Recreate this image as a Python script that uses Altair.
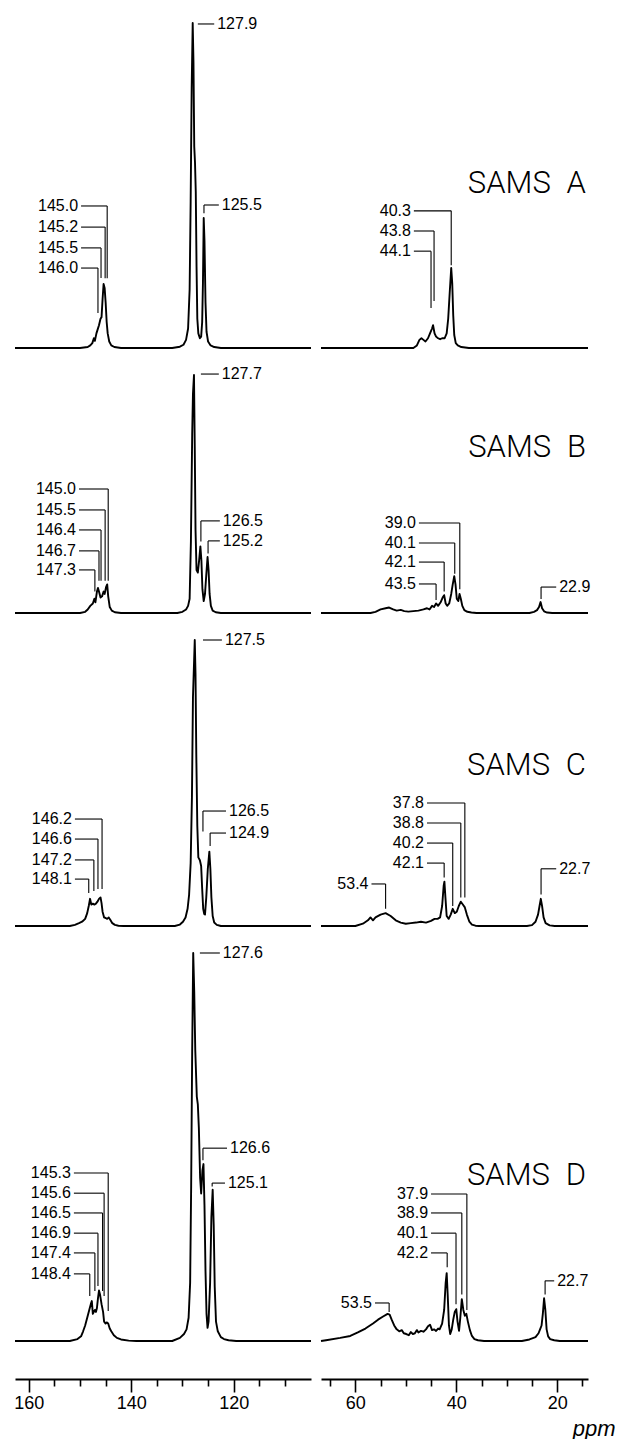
import altair as alt
import pandas as pd

# ---------------- data (ppm, relative intensity in % of the row's tallest peak) ----------------
samples = ["SAMS A", "SAMS B", "SAMS C", "SAMS D"]

A_arom = [(162.7, 0), (150.0, 0), (148.5, 0.3), (148.0, 0.8), (147.6, 1.5), (147.3, 3), (147.1, 2.2),
          (146.8, 4.5), (146.6, 5.5), (146.3, 7), (146.0, 9), (145.8, 9.5), (145.6, 15), (145.4, 19.7),
          (145.2, 18.5), (145.0, 14), (144.8, 8), (144.6, 4.5), (144.3, 2), (143.9, 0.8), (143.3, 0.3),
          (142.0, 0), (132.0, 0), (130.5, 0.4), (129.8, 1), (129.3, 2.5), (128.9, 6), (128.6, 18),
          (128.4, 45), (128.2, 80), (128.0, 100), (127.85, 88), (127.7, 62), (127.55, 57), (127.4, 48),
          (127.25, 25), (127.1, 9), (126.9, 4.5), (126.6, 3), (126.35, 3.5), (126.15, 8), (126.0, 20),
          (125.85, 40), (125.7, 33), (125.5, 14), (125.3, 5), (125.0, 2), (124.5, 0.8), (123.8, 0.3),
          (122.5, 0), (104.9, 0)]
A_aliph = [(66.8, 0), (48.5, 0), (47.8, 0.8), (47.3, 2.5), (46.9, 3), (46.5, 2.5), (46.1, 2), (45.6, 3),
           (45.2, 4.5), (44.8, 6), (44.6, 7), (44.3, 4.5), (44.0, 3.5), (43.6, 3), (43.2, 2.7), (42.8, 3),
           (42.3, 3), (41.9, 4.5), (41.6, 9), (41.3, 17), (41.0, 24.6), (40.8, 20), (40.6, 10), (40.4, 4),
           (40.1, 1.5), (39.7, 0.8), (39.0, 0.3), (37.5, 0), (13.9, 0)]

B_arom = [(162.7, 0), (150.0, 0), (149.0, 0.5), (148.5, 1.5), (148.0, 3), (147.5, 4), (147.2, 6), (147.0, 4.5),
          (146.7, 9), (146.5, 10.5), (146.3, 9), (146.0, 6.5), (145.7, 7), (145.4, 9), (145.2, 8),
          (144.9, 11), (144.7, 12), (144.5, 7), (144.2, 2.5), (143.8, 1), (143.2, 0.3), (142.0, 0),
          (131.0, 0), (130.0, 0.5), (129.3, 1.5), (128.9, 3), (128.6, 6), (128.35, 30), (128.1, 75),
          (127.95, 92), (127.75, 100), (127.6, 70), (127.45, 35), (127.25, 18), (127.0, 17), (126.75, 22),
          (126.5, 28), (126.3, 22), (126.1, 10), (125.85, 5), (125.6, 8), (125.35, 16), (125.1, 23.5),
          (124.9, 18), (124.7, 8), (124.45, 3), (124.1, 1), (123.5, 0.3), (122.5, 0), (104.9, 0)]
B_aliph = [(66.8, 0), (57.0, 0), (56.0, 0.5), (55.0, 1.5), (54.0, 2), (53.3, 2.3), (52.5, 1.5), (51.8, 1),
           (51.0, 1.3), (50.3, 0.8), (49.5, 0.6), (48.5, 0.8), (47.5, 1), (46.5, 1.5), (45.8, 2),
           (45.3, 1.5), (44.8, 3), (44.4, 2.5), (44.0, 4), (43.6, 3), (43.1, 4.5), (42.7, 6.5), (42.4, 7.5),
           (42.1, 4), (41.8, 3), (41.4, 4), (41.0, 8), (40.7, 12), (40.4, 15.5), (40.15, 12), (39.9, 6),
           (39.6, 5), (39.35, 8), (39.1, 6), (38.8, 3), (38.4, 1.2), (37.8, 0.5), (37.0, 0.2), (36.0, 0),
           (25.5, 0), (24.6, 0.5), (24.0, 1.2), (23.6, 2.5), (23.3, 4.6), (23.0, 2), (22.6, 0.7),
           (22.0, 0.2), (21.0, 0), (13.9, 0)]

C_arom = [(162.7, 0), (152.0, 0), (151.0, 0.4), (150.2, 1), (149.6, 1.5), (149.0, 2.5), (148.6, 4.5),
          (148.3, 7), (148.05, 9.5), (147.8, 7.5), (147.5, 7.8), (147.2, 7.5), (146.9, 7.8), (146.6, 8.5),
          (146.3, 9.5), (146.0, 10), (145.8, 8), (145.6, 5), (145.3, 3), (145.0, 2.8), (144.7, 2.5),
          (144.4, 3), (144.1, 2.2), (143.7, 1), (143.2, 0.4), (142.5, 0.1), (141.5, 0), (131.5, 0),
          (130.5, 0.5), (129.9, 1.5), (129.4, 3), (129.0, 6), (128.7, 11), (128.4, 22), (128.15, 45),
          (127.95, 80), (127.6, 100), (127.45, 88), (127.3, 60), (127.1, 35), (126.9, 24), (126.6, 23),
          (126.35, 21), (126.15, 13), (125.95, 6), (125.75, 4.2), (125.6, 4), (125.35, 10), (125.05, 20),
          (124.75, 26), (124.55, 20), (124.35, 10), (124.1, 3.5), (123.8, 1.2), (123.3, 0.4), (122.5, 0),
          (104.9, 0)]
C_aliph = [(66.8, 0), (60.0, 0), (58.5, 0.8), (57.5, 2), (57.0, 3), (56.5, 2), (56.0, 3), (55.0, 4),
           (54.0, 4.5), (53.0, 3.5), (52.0, 2), (51.0, 1.2), (50.0, 0.8), (49.0, 1), (48.0, 1.2), (47.0, 1.5),
           (46.0, 1.2), (45.0, 1.8), (44.3, 2.5), (43.7, 2.5), (43.2, 3), (42.8, 7), (42.5, 14),
           (42.35, 15.5), (42.15, 10), (41.9, 3.5), (41.5, 2.5), (41.1, 4), (40.7, 6), (40.3, 4.5),
           (39.9, 5), (39.5, 7), (39.1, 8.5), (38.7, 7.5), (38.3, 6.5), (37.9, 4), (37.4, 1.5), (36.9, 0.5),
           (36.2, 0.1), (35.5, 0), (26.0, 0), (25.0, 0.3), (24.3, 1.5), (23.8, 4), (23.5, 7), (23.25, 9.5),
           (23.0, 7), (22.7, 3), (22.3, 1), (21.5, 0.2), (20.5, 0), (13.9, 0)]

D_arom = [(162.7, 0), (152.0, 0), (150.5, 0.5), (149.8, 1.2), (149.4, 2.5), (149.0, 4), (148.6, 6),
          (148.2, 8), (147.9, 9.5), (147.7, 10.3), (147.5, 7), (147.3, 7.5), (147.1, 8), (146.9, 7.5),
          (146.7, 8.5), (146.5, 11), (146.3, 13), (146.1, 12), (145.8, 9.5), (145.5, 7.5), (145.3, 5),
          (145.0, 4.5), (144.8, 4.8), (144.5, 4.5), (144.2, 3.2), (143.9, 2.5), (143.4, 1.5), (142.8, 0.8),
          (142.0, 0.4), (140.5, 0.1), (139.0, 0), (132.0, 0), (130.5, 0.8), (129.7, 1.8), (129.2, 3),
          (128.8, 6), (128.5, 15), (128.3, 40), (128.1, 75), (127.9, 100), (127.7, 90), (127.5, 75),
          (127.2, 63), (127.0, 61), (126.8, 55), (126.55, 42), (126.35, 38), (126.1, 44), (125.9, 45.6),
          (125.7, 35), (125.5, 18), (125.3, 7), (125.1, 3.4), (124.9, 5), (124.6, 15), (124.35, 32),
          (124.1, 39), (123.9, 30), (123.7, 14), (123.45, 5), (123.1, 2.5), (122.5, 1), (121.9, 0.5),
          (121.0, 0.2), (119.5, 0), (104.9, 0)]
D_aliph = [(66.8, 0), (65.8, 0.2), (63.0, 0.8), (61.0, 1.3), (59.5, 2.2), (58.0, 3.2), (56.5, 4.5),
           (55.5, 5.5), (54.5, 6.3), (53.6, 7), (53.2, 6.8), (52.8, 5.5), (52.3, 4), (51.8, 3), (51.3, 2.5),
           (50.8, 2.8), (50.4, 2), (49.9, 1.8), (49.4, 1.5), (49.0, 2.3), (48.6, 1.8), (48.2, 2), (47.8, 2.8),
           (47.5, 2.2), (47.0, 2.6), (46.5, 2.4), (46.0, 3), (45.6, 3.8), (45.2, 4.2), (44.8, 2.8),
           (44.4, 3), (44.0, 2.6), (43.6, 3.2), (43.3, 3), (42.8, 4.5), (42.4, 8), (42.1, 15), (41.9, 17.5),
           (41.7, 12), (41.45, 4), (41.2, 1.8), (40.9, 3), (40.6, 5.5), (40.3, 7.5), (40.0, 8.2), (39.75, 5),
           (39.45, 2.6), (39.2, 6), (38.9, 10.8), (38.6, 8), (38.3, 6.5), (38.0, 7), (37.7, 5), (37.3, 2.8),
           (36.9, 1.3), (36.4, 0.5), (35.7, 0.2), (34.5, 0), (27.0, 0), (25.5, 0.4), (24.3, 1), (23.7, 2),
           (23.4, 3), (23.1, 4), (22.85, 7), (22.6, 11), (22.35, 8), (22.1, 3), (21.8, 1.2), (21.4, 0.5),
           (20.6, 0.2), (19.5, 0), (13.9, 0)]

# peak labels: (text, leader ppm, label level %, leader end %, text anchor ppm, side)
A_arom_lab = [("127.9", 127.0, 99.7, 99.7, 123.8, "R"), ("125.5", 125.8, 44.0, 41.5, 122.9, "R"),
              ("145.0", 144.7, 43.7, 21.5, 149.8, "L"), ("145.2", 145.1, 37.2, 21.5, 149.8, "L"),
              ("145.5", 145.9, 30.8, 21.5, 149.8, "L"), ("146.0", 146.5, 24.6, 10.8, 149.8, "L")]
A_aliph_lab = [("40.3", 41.0, 42.2, 25.5, 48.4, "L"), ("43.8", 44.4, 36.0, 14.5, 48.4, "L"),
               ("44.1", 45.0, 29.8, 12.3, 48.4, "L")]
B_arom_lab = [("127.7", 126.4, 100.4, 100.4, 122.9, "R"), ("126.5", 126.4, 38.7, 30.0, 122.7, "R"),
              ("125.2", 125.0, 30.3, 25.0, 122.7, "R"),
              ("145.0", 144.5, 52.1, 13.5, 150.2, "L"), ("145.5", 145.1, 43.3, 13.5, 150.2, "L"),
              ("146.4", 145.9, 34.9, 13.5, 150.2, "L"), ("146.7", 146.3, 26.1, 13.5, 150.2, "L"),
              ("147.3", 147.1, 18.1, 9.0, 150.2, "L")]
B_aliph_lab = [("39.0", 39.3, 37.8, 10.0, 47.4, "L"), ("40.1", 40.3, 29.4, 16.5, 47.4, "L"),
               ("42.1", 42.4, 21.4, 9.0, 47.4, "L"), ("43.5", 44.0, 12.2, 5.5, 47.4, "L"),
               ("22.9", 23.2, 10.9, 5.9, 20.2, "R")]
C_arom_lab = [("127.5", 126.0, 100.0, 100.0, 122.3, "R"), ("126.5", 126.0, 40.2, 33.0, 121.5, "R"),
              ("124.9", 124.6, 32.5, 28.0, 121.5, "R"),
              ("146.2", 145.7, 37.4, 12.9, 151.0, "L"), ("146.6", 146.5, 30.4, 12.9, 151.0, "L"),
              ("147.2", 147.3, 23.1, 12.2, 151.0, "L"), ("148.1", 148.3, 16.4, 11.5, 151.0, "L")]
C_aliph_lab = [("37.8", 38.3, 43.0, 10.0, 45.8, "L"), ("38.8", 39.1, 36.0, 10.0, 45.8, "L"),
               ("40.2", 40.7, 29.0, 7.0, 45.8, "L"), ("42.1", 42.4, 22.0, 17.0, 45.8, "L"),
               ("53.4", 54.0, 14.7, 6.0, 56.8, "L"), ("22.7", 23.2, 20.0, 11.0, 20.2, "R")]
D_arom_lab = [("127.6", 126.6, 100.0, 100.0, 122.7, "R"), ("126.6", 126.0, 49.7, 46.6, 121.3, "R"),
              ("125.1", 124.2, 40.7, 39.8, 121.7, "R"),
              ("145.3", 144.5, 43.3, 7.7, 151.2, "L"), ("145.6", 145.3, 38.1, 11.6, 151.2, "L"),
              ("146.5", 145.6, 33.0, 12.9, 151.2, "L"), ("146.9", 146.5, 27.8, 14.2, 151.2, "L"),
              ("147.4", 147.1, 22.7, 12.9, 151.2, "L"), ("148.4", 148.1, 17.3, 11.6, 151.2, "L")]
D_aliph_lab = [("37.9", 37.9, 37.9, 8.0, 45.0, "L"), ("38.9", 38.9, 33.0, 12.0, 45.0, "L"),
               ("40.1", 40.05, 27.8, 9.5, 45.0, "L"), ("42.2", 41.8, 22.7, 19.0, 45.0, "L"),
               ("53.5", 53.3, 9.8, 7.5, 56.1, "L"), ("22.7", 22.4, 15.5, 12.0, 20.6, "R")]

left_ticks = [160, 155, 150, 145, 140, 135, 130, 125, 120, 115, 110]
right_ticks = [65, 60, 55, 50, 45, 40, 35, 30, 25, 20, 15]

# ---------------- layout ----------------
LEFT_DOM = [104.9, 162.7]
RIGHT_DOM = [13.9, 66.8]
LEFT_W, RIGHT_W = 296, 267
ROW_H = [325, 238, 286, 388]
SAMS_POS = (14.3, [50.5, 69.3, 56.0, 42.5])
NUM_FONT = "Liberation Sans"
SAMS_FONT = "Roboto"


def make_axis(values, title=None):
    kw = dict(values=values,
              labelExpr="datum.value % 20 === 0 ? datum.label : ''",
              tickSize={"condition": {"test": "datum.value % 20 === 0", "value": 13}, "value": 7},
              tickColor="black", tickWidth=1.6, domainColor="black", domainWidth=2.2,
              labelFont=NUM_FONT, labelFontSize=18, labelColor="black", labelPadding=2,
              labelFlush=False, labelOverlap=False, grid=False, offset=38)
    if title:
        kw.update(title=title, titleFont=NUM_FONT, titleFontSize=22, titleFontStyle="italic",
                  titleFontWeight="normal", titleColor="black", titleAlign="right", titleAnchor="end",
                  titleX=294, titleY=56, titleBaseline="alphabetic")
    else:
        kw.update(title=None)
    return alt.Axis(**kw)


def panel(trace, labels, dom, width, height, axis, sams=None, sams_lvl=None):
    xs = alt.Scale(domain=dom, reverse=True, nice=False, zero=False)
    ys = alt.Scale(domain=[0, 100], nice=False, zero=False)

    def X(f):
        return alt.X(f, scale=xs, axis=axis, title=None) if axis is not None else alt.X(f, scale=xs, axis=None)

    def Y(f):
        return alt.Y(f, scale=ys, axis=None)

    spec = pd.DataFrame(trace, columns=["ppm", "inten"])
    spec["k"] = range(len(spec))
    layers = [alt.Chart(spec).mark_line(color="black", strokeWidth=1.9, strokeJoin="round").encode(
        x=X("ppm:Q"), y=Y("inten:Q"), order="k:Q")]

    lab = pd.DataFrame(labels, columns=["text", "vx", "lvl", "bot", "tx", "side"])
    layers.append(alt.Chart(lab).mark_rule(color="black", strokeWidth=1.1).encode(
        x=X("tx:Q"), x2="vx:Q", y=Y("lvl:Q")))
    vert = lab[lab["bot"] < lab["lvl"]]
    if len(vert):
        layers.append(alt.Chart(vert).mark_rule(color="black", strokeWidth=1.1).encode(
            x=X("vx:Q"), y=Y("lvl:Q"), y2="bot:Q"))
    for side, align, dx in (("L", "right", -3), ("R", "left", 3)):
        sub = lab[lab["side"] == side]
        if len(sub):
            layers.append(alt.Chart(sub).mark_text(align=align, baseline="middle", dx=dx, fontSize=16,
                                                   font=NUM_FONT, color="black").encode(
                x=X("tx:Q"), y=Y("lvl:Q"), text="text:N"))
    if sams:
        sd = pd.DataFrame({"name": [sams], "x": [SAMS_POS[0]], "y": [sams_lvl]})
        layers.append(alt.Chart(sd).mark_text(align="right", baseline="middle", fontSize=31,
                                              fontWeight=300, font=SAMS_FONT, color="black").encode(
            x=X("x:Q"), y=Y("y:Q"), text="name:N"))
    return alt.layer(*layers).properties(width=width, height=height)


rows_data = [(A_arom, A_arom_lab, A_aliph, A_aliph_lab),
             (B_arom, B_arom_lab, B_aliph, B_aliph_lab),
             (C_arom, C_arom_lab, C_aliph, C_aliph_lab),
             (D_arom, D_arom_lab, D_aliph, D_aliph_lab)]

cells = []
for i, (ar, arl, al, all_) in enumerate(rows_data):
    last = i == len(rows_data) - 1
    lax = make_axis(left_ticks) if last else None
    rax = make_axis(right_ticks, "ppm") if last else None
    name = samples[i].replace(" ", "\u2002")
    cells.append(panel(ar, arl, LEFT_DOM, LEFT_W, ROW_H[i], lax))
    cells.append(panel(al, all_, RIGHT_DOM, RIGHT_W, ROW_H[i], rax, sams=name, sams_lvl=SAMS_POS[1][i]))

chart = alt.concat(*cells, columns=2, spacing={"row": 27, "column": 10}, bounds="flush").properties(
    padding={"left": 13, "top": 15, "right": 0, "bottom": 0}, background="white"
).configure_view(stroke=None)

chart.save("out.html", embed_options={"renderer": "svg", "actions": False})
